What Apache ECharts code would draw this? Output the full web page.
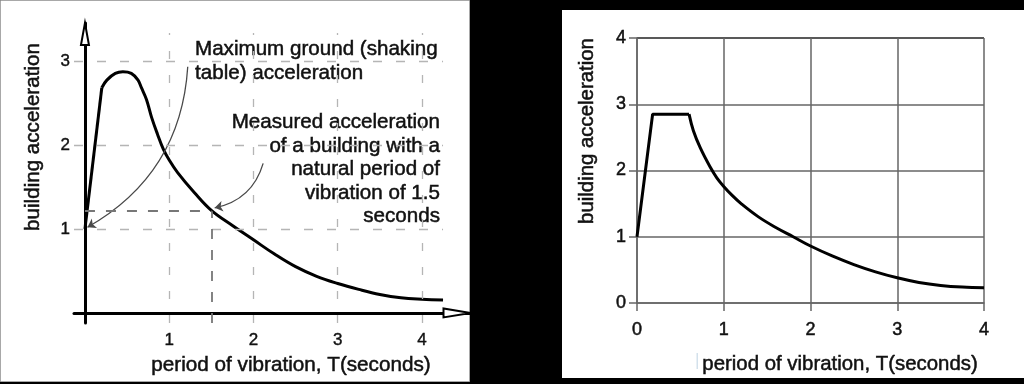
<!DOCTYPE html>
<html><head><meta charset="utf-8">
<script src="https://cdn.jsdelivr.net/npm/echarts@6/dist/echarts.min.js"></script>
<style>html,body{margin:0;padding:0;background:#000}#c{width:1024px;height:384px}</style>
</head><body><div id="c"></div>
<script>
// ---------- data ----------
// Left panel: measured building acceleration vs period
const leftRiseT = [0, 0.2];
const leftRiseV = [1.0, 2.68];
const leftDecayT = [0.2, 0.26, 0.36, 0.45, 0.55, 0.63, 0.67, 0.73, 0.79, 0.86, 0.93, 1.0, 1.1, 1.3, 1.5, 1.75, 2.0, 2.25, 2.5, 2.75, 3.0, 3.25, 3.5, 3.75, 4.0, 4.25];
const leftDecayV = [2.68, 2.77, 2.85, 2.87, 2.85, 2.77, 2.68, 2.54, 2.33, 2.13, 1.95, 1.82, 1.67, 1.43, 1.22, 1.04, 0.87, 0.70, 0.55, 0.435, 0.35, 0.28, 0.22, 0.18, 0.163, 0.155];
const leftTicksX = [1, 2, 3, 4];
const leftTicksY = [1, 2, 3];
const markT = 1.5;      // natural period of the building
const markV = 1.21;     // its acceleration
// annotation arrows: [start, end] in data coordinates
const arrowGround = [[1.22, 2.93], [0.03, 1.02]];
const arrowBuilding = [[2.115, 1.78], [1.54, 1.25]];
const noteGround = ['Maximum ground (shaking', 'table) acceleration'];
const noteBuilding = ['Measured acceleration', 'of a building with a', 'natural period of', 'vibration of 1.5', 'seconds'];

// Right panel: design spectrum
const rightRampT = [0, 0.18, 0.6];
const rightRampV = [1.0, 2.85, 2.85];
const rightDecayT = [0.6, 0.65, 0.73, 0.84, 0.92, 1.0, 1.1, 1.2, 1.4, 1.6, 1.8, 2.0, 2.25, 2.5, 2.75, 3.0, 3.25, 3.5, 3.75, 4.0];
const rightDecayV = [2.85, 2.6, 2.34, 2.06, 1.89, 1.76, 1.62, 1.50, 1.30, 1.14, 1.0, 0.86, 0.71, 0.58, 0.47, 0.38, 0.31, 0.265, 0.24, 0.23];

const xTitle = 'period of vibration, T(seconds)';
const yTitle = 'building acceleration';

// ---------- chart ----------
const FONT = '"Liberation Sans", Arial, Helvetica, sans-serif';
const TXT = '#111';
const pair = (xs, ys) => xs.map((x, i) => [x, ys[i]]);
const chart = echarts.init(document.getElementById('c'));

// left grid geometry / axis ranges (axes cross at the data origin, slightly inside the grid)
const LG = { left: 74, top: 23, width: 396, height: 300 };
const lxMin = -0.13, lxMax = 4.57, lyMin = -0.12, lyMax = 3.45;
const xAxisShift = -(0 - lyMin) / (lyMax - lyMin) * LG.height;  // move x axis up to y = 0
const yAxisShift = -(0 - lxMin) / (lxMax - lxMin) * LG.width;   // move y axis right to x = 0

const lightDash = { color: '#b5b5b5', width: 1.3, type: [9, 14] };
const darkDash = { color: '#777', width: 1.8, type: [10, 11] };
const gridMarks = [];
leftTicksX.forEach(x => gridMarks.push([{ coord: [x, lyMin], lineStyle: { ...lightDash, type: [8, 16] } }, { coord: [x, 3.33] }]));
leftTicksY.forEach(y => gridMarks.push([{ coord: [lxMin, y], lineStyle: lightDash }, { coord: [4.25, y] }]));
gridMarks.push([{ coord: [markT, lyMin], lineStyle: darkDash }, { coord: [markT, markV] }]);
gridMarks.push([{ coord: [0, markV], lineStyle: darkDash }, { coord: [markT, markV] }]);

const curveStyle = { color: '#000', width: 3 };
const textStyle = (size, extra) => Object.assign({ fontSize: size, fontFamily: FONT, fill: TXT, stroke: TXT, lineWidth: 0.5 }, extra);

chart.setOption({
  backgroundColor: '#000',
  animation: false,
  graphic: [
    { type: 'rect', z: -10, shape: { x: 0.5, y: 0.5, width: 469, height: 381 }, style: { fill: '#fff', stroke: '#a8a8a8', lineWidth: 1 } },
    { type: 'rect', z: -10, shape: { x: 562, y: 10, width: 462, height: 368 }, style: { fill: '#fff' } },
    { type: 'rect', z: -9, shape: { x: 696.5, y: 353, width: 1.5, height: 16 }, style: { fill: '#d3e1ec' } },
    { type: 'text', x: 195, y: 37, style: textStyle(20.6, { text: noteGround.join('\n'), align: 'left', verticalAlign: 'top', lineHeight: 24 }) },
    { type: 'text', x: 440, y: 111, style: textStyle(20.6, { text: noteBuilding.join('\n'), align: 'right', verticalAlign: 'top', lineHeight: 23.5 }) },
    { type: 'text', x: 291, y: 365, style: textStyle(20.7, { text: xTitle, align: 'center', verticalAlign: 'middle' }) },
    { type: 'text', x: 33, y: 137, rotation: Math.PI / 2, style: textStyle(20.6, { text: yTitle, align: 'center', verticalAlign: 'middle' }) },
    { type: 'text', x: 840, y: 364, style: textStyle(20.4, { text: xTitle, align: 'center', verticalAlign: 'middle' }) },
    { type: 'text', x: 587, y: 131, rotation: Math.PI / 2, style: textStyle(20.4, { text: yTitle, align: 'center', verticalAlign: 'middle' }) }
  ],
  grid: [
    { left: LG.left, top: LG.top, width: LG.width, height: LG.height },
    { left: 637, right: 40, top: 38, bottom: 81 }
  ],
  xAxis: [
    {
      gridIndex: 0, type: 'value', min: lxMin, max: lxMax, offset: xAxisShift,
      axisLine: { onZero: false, lineStyle: { color: '#000', width: 3 }, symbol: ['none', 'emptyTriangle'], symbolSize: [9, 27], symbolOffset: [0, -13] },
      axisTick: { show: false },
      axisLabel: { customValues: leftTicksX, margin: 19, fontSize: 17, fontFamily: FONT, color: TXT, textBorderColor: TXT, textBorderWidth: 0.4 },
      splitLine: { show: false }
    },
    {
      gridIndex: 1, type: 'value', min: 0, max: 4, interval: 1,
      axisLine: { lineStyle: { color: '#666', width: 1.5 } },
      axisTick: { show: true, length: 8, lineStyle: { color: '#666', width: 1.5 } },
      axisLabel: { margin: 18, fontSize: 18, fontFamily: FONT, color: TXT, textBorderColor: TXT, textBorderWidth: 0.5 },
      splitLine: { show: true, lineStyle: { color: '#666', width: 1.5 } }
    }
  ],
  yAxis: [
    {
      gridIndex: 0, type: 'value', min: lyMin, max: lyMax, offset: yAxisShift,
      axisLine: { onZero: false, lineStyle: { color: '#000', width: 3 }, symbol: ['none', 'emptyTriangle'], symbolSize: [8, 22], symbolOffset: [0, -11] },
      axisTick: { show: false },
      axisLabel: { customValues: leftTicksY, margin: 15, fontSize: 17, fontFamily: FONT, color: TXT, textBorderColor: TXT, textBorderWidth: 0.4 },
      splitLine: { show: false }
    },
    {
      gridIndex: 1, type: 'value', min: 0, max: 4, interval: 1,
      axisLine: { show: true, lineStyle: { color: '#666', width: 1.5 } },
      axisTick: { show: true, length: 8, lineStyle: { color: '#666', width: 1.5 } },
      axisLabel: { margin: 11, fontSize: 18, fontFamily: FONT, color: TXT, textBorderColor: TXT, textBorderWidth: 0.5 },
      splitLine: { show: true, lineStyle: { color: ['#666', '#666', '#666', '#666', '#222'], width: 1.5 } }
    }
  ],
  series: [
    {
      type: 'line', xAxisIndex: 0, yAxisIndex: 0, z: 1, data: [], silent: true,
      markLine: { symbol: ['none', 'none'], silent: true, label: { show: false }, data: gridMarks }
    },
    { type: 'line', xAxisIndex: 0, yAxisIndex: 0, data: pair(leftRiseT, leftRiseV), showSymbol: false, lineStyle: curveStyle, z: 3 },
    { type: 'line', xAxisIndex: 0, yAxisIndex: 0, data: pair(leftDecayT, leftDecayV), smooth: 0.4, showSymbol: false, lineStyle: curveStyle, z: 3 },
    {
      type: 'lines', coordinateSystem: 'cartesian2d', xAxisIndex: 0, yAxisIndex: 0, z: 4,
      symbol: ['none', 'arrow'], symbolSize: 8,
      lineStyle: { color: '#4a4a4a', width: 1.3, opacity: 1 },
      data: [
        { coords: arrowGround, lineStyle: { curveness: 0.27 } },
        { coords: arrowBuilding, lineStyle: { curveness: 0.3 } }
      ]
    },
    { type: 'line', xAxisIndex: 1, yAxisIndex: 1, data: pair(rightRampT, rightRampV), showSymbol: false, lineStyle: curveStyle, z: 3 },
    { type: 'line', xAxisIndex: 1, yAxisIndex: 1, data: pair(rightDecayT, rightDecayV), smooth: 0.4, showSymbol: false, lineStyle: curveStyle, z: 3 }
  ]
});
</script>
</body></html>
